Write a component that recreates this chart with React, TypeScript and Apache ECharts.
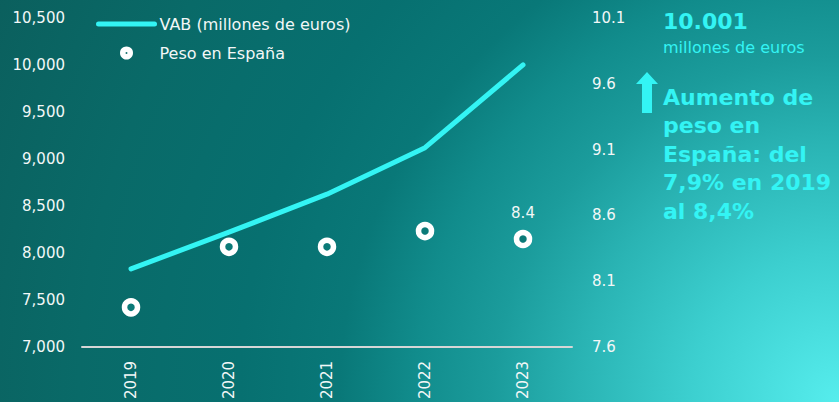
import React, { useEffect, useRef } from "react";
import * as echarts from "echarts";

const years = ["2019", "2020", "2021", "2022", "2023"];
const vab = [7830, 8220, 8625, 9120, 10001];
const peso = [7.9, 8.36, 8.36, 8.48, 8.42];
const leftTicks = { min: 7000, max: 10500, interval: 500 };
const rightTicks = { min: 7.6, max: 10.1, interval: 0.5 };
const headline = "10.001";
const headlineUnit = "millones de euros";
const noteLines = ["Aumento de", "peso en", "España: del", "7,9% en 2019", "al 8,4%"];

const FONT = '"DejaVu Sans", Verdana, sans-serif';
const CYAN = "#33f4f4";
const LABEL = "#f2f7f7";

export default function App() {
  const ref = useRef<HTMLDivElement>(null);
  useEffect(() => {
    document.body.style.margin = "0";
    if (!ref.current) return;
    const chart = echarts.init(ref.current, undefined, { renderer: "svg" });
    chart.setOption({
      animation: false,
      textStyle: { fontFamily: FONT },
      legend: {
        orient: "vertical",
        left: 91,
        top: 11,
        itemWidth: 56,
        itemHeight: 7.5,
        itemGap: 13,
        textStyle: { color: LABEL, fontSize: 16, fontFamily: FONT },
        lineStyle: { width: 5, cap: "round" },
        data: [
          { name: "VAB (millones de euros)", itemStyle: { opacity: 0 } },
          {
            name: "Peso en España",
            icon: "circle",
            itemStyle: { color: "#0b6b68", borderColor: "#ffffff", borderWidth: 5.5, opacity: 1 },
          },
        ],
      },
      grid: { left: 82, right: 267, top: 18, bottom: 54, containLabel: false },
      xAxis: {
        type: "category",
        data: years,
        boundaryGap: true,
        axisLine: { show: true, lineStyle: { color: "#d6d6d6", width: 2 } },
        axisTick: { show: false },
        axisLabel: {
          rotate: 90,
          margin: 14,
          color: LABEL,
          fontSize: 15,
          fontFamily: FONT,
        },
        splitLine: { show: false },
      },
      yAxis: [
        {
          type: "value",
          min: leftTicks.min,
          max: leftTicks.max,
          interval: leftTicks.interval,
          axisLine: { show: false },
          axisTick: { show: false },
          splitLine: { show: false },
          axisLabel: {
            margin: 17,
            color: LABEL,
            fontSize: 15,
            fontFamily: FONT,
            formatter: (v: number) => v.toLocaleString("en-US"),
          },
        },
        {
          type: "value",
          position: "right",
          min: rightTicks.min,
          max: rightTicks.max,
          interval: rightTicks.interval,
          axisLine: { show: false },
          axisTick: { show: false },
          splitLine: { show: false },
          axisLabel: {
            margin: 20,
            color: LABEL,
            fontSize: 15,
            fontFamily: FONT,
            formatter: (v: number) => v.toFixed(1),
          },
        },
      ],
      series: [
        {
          name: "VAB (millones de euros)",
          type: "line",
          yAxisIndex: 0,
          data: vab,
          symbol: "none",
          lineStyle: { color: CYAN, width: 5, cap: "round", join: "round" },
          itemStyle: { color: CYAN },
          z: 2,
        },
        {
          name: "Peso en España",
          type: "scatter",
          yAxisIndex: 1,
          symbol: "circle",
          symbolSize: 13,
          itemStyle: {
            color: "#0b7a78",
            borderColor: "#ffffff",
            borderWidth: 5.5,
            opacity: 1,
          },
          data: peso.map((v, i) =>
            i === peso.length - 1
              ? {
                  value: v,
                  label: {
                    show: true,
                    position: "top",
                    distance: 9,
                    color: LABEL,
                    fontSize: 15,
                    fontFamily: FONT,
                    formatter: (p: any) => Number(p.value).toFixed(1),
                  },
                }
              : v
          ),
          z: 3,
        },
      ],
      graphic: [
        {
          type: "text",
          left: 663,
          top: 10,
          style: {
            text: headline,
            fill: CYAN,
            font: `bold 22px ${FONT}`,
          },
        },
        {
          type: "text",
          left: 663,
          top: 39,
          style: {
            text: headlineUnit,
            fill: CYAN,
            font: `16px ${FONT}`,
          },
        },
        {
          type: "polygon",
          shape: {
            points: [
              [647, 72],
              [658, 84],
              [652, 84],
              [652, 113],
              [642, 113],
              [642, 84],
              [636, 84],
            ],
          },
          style: { fill: CYAN },
        },
        {
          type: "text",
          left: 663,
          top: 83,
          style: {
            text: noteLines.join("\n"),
            fill: CYAN,
            font: `bold 22px ${FONT}`,
            lineHeight: 28.5,
          },
        },
      ],
    });
    return () => chart.dispose();
  }, []);
  return (
    <div
      ref={ref}
      style={{
        position: "absolute",
        left: 0,
        top: 0,
        width: 839,
        height: 402,
        background:
          "radial-gradient(circle at 839px 402px, #56eded 0px, #3ccfcf 150px, #2ab4b4 260px, #1b9c9c 345px, #118c8c 425px, #097878 500px, #077070 600px, #096a68 760px, #0b5f5d 940px)",
      }}
    />
  );
}
